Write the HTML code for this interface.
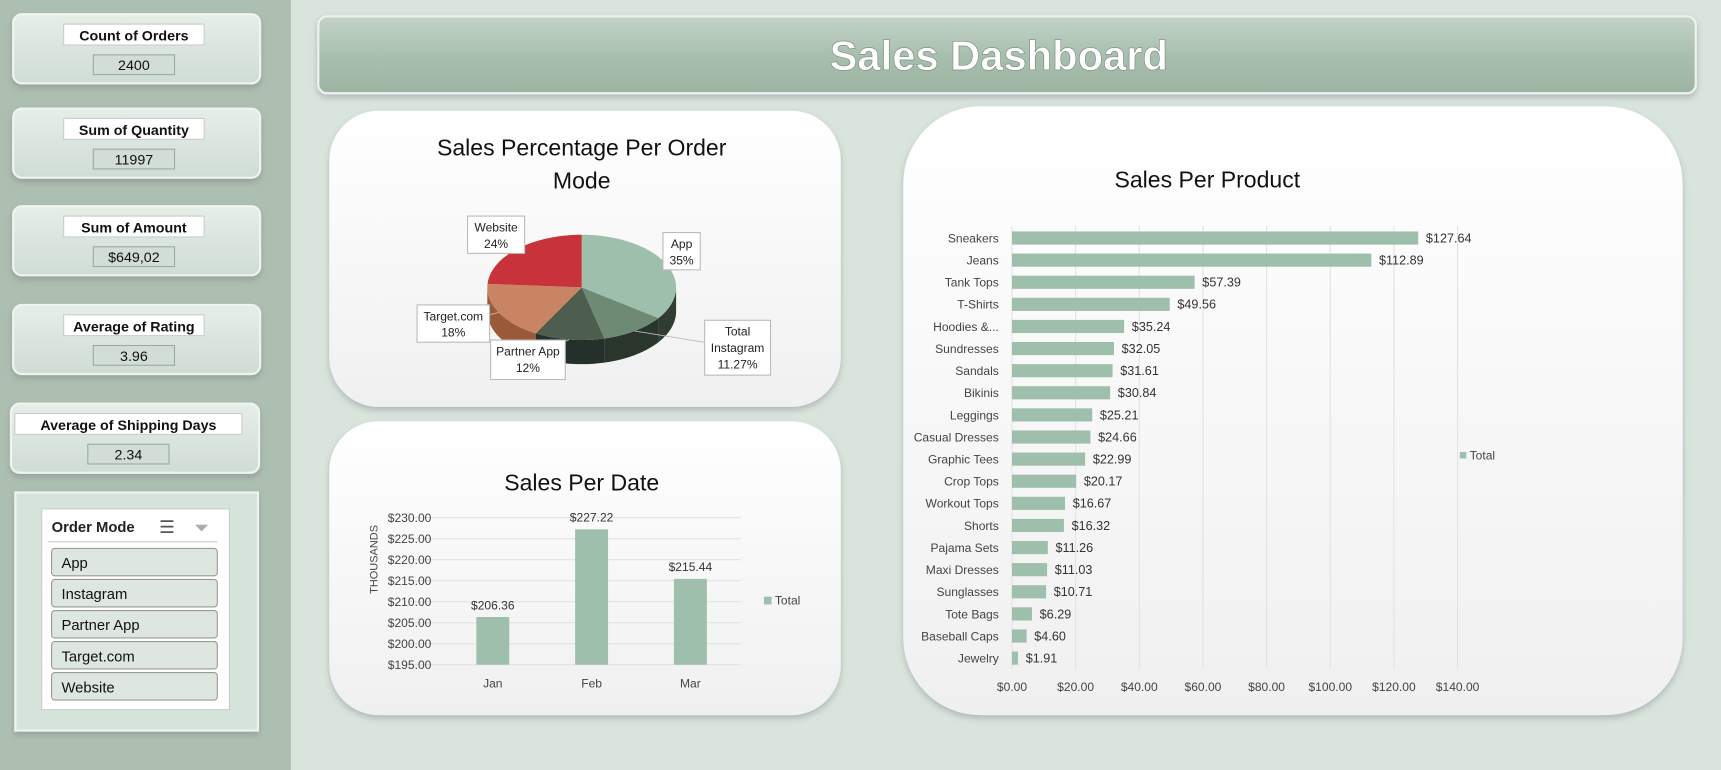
<!DOCTYPE html>
<html><head><meta charset="utf-8"><style>
html,body{margin:0;padding:0;background:#d8e4dc;}
svg{display:block;font-family:"Liberation Sans",sans-serif;}
</style></head><body>
<svg id="s" width="1721" height="770" viewBox="0 0 1568 702" preserveAspectRatio="none" xmlns="http://www.w3.org/2000/svg">
<defs>
<linearGradient id="card" x1="0" y1="0" x2="0" y2="1"><stop offset="0" stop-color="#ffffff"/><stop offset="1" stop-color="#f0f0f0"/></linearGradient>
<linearGradient id="kpi" x1="0" y1="0" x2="0" y2="1"><stop offset="0" stop-color="#e6eee8"/><stop offset="1" stop-color="#cfdcd3"/></linearGradient>
<linearGradient id="title" x1="0" y1="0" x2="0" y2="1"><stop offset="0" stop-color="#c4d4c8"/><stop offset="0.5" stop-color="#a9bfae"/><stop offset="1" stop-color="#9db4a3"/></linearGradient>
<filter id="sh" x="-10%" y="-10%" width="120%" height="130%"><feDropShadow dx="0" dy="3" stdDeviation="3" flood-color="#667" flood-opacity="0.35"/></filter>
</defs>
<rect x="0" y="0" width="1568" height="702" fill="#d8e4dc"/>
<rect x="0" y="0" width="265" height="702" fill="#adbfb0"/>
<g id="kpis"></g>
<!-- slicer -->
<g>
<rect x="14" y="449" width="221" height="217" fill="#d6e3da" stroke="#eef4ef" stroke-width="2" filter="url(#sh)"/>
<rect x="38" y="464" width="171" height="183" fill="#fff" stroke="#c8cfca"/>
<text x="47" y="485" font-size="13.5" font-weight="bold" fill="#222">Order Mode</text>
<text x="145" y="486" font-size="16" fill="#555">☰</text>
<text x="177" y="487" font-size="17" fill="#aaa">⏷</text>
<line x1="44" y1="494" x2="198" y2="494" stroke="#ccc"/>
<g id="slicerItems"></g>
</g>
<!-- title -->
<rect x="290" y="15" width="1255" height="70" rx="8" fill="url(#title)" stroke="#eef2ee" stroke-width="2" filter="url(#sh)"/>
<text x="910" y="64" text-anchor="middle" font-size="38" font-weight="bold" fill="#fff" stroke="#7d8f82" stroke-width="0.6">Sales Dashboard</text>
<!-- cards -->
<rect x="300" y="101" width="466" height="270" rx="45" fill="url(#card)" filter="url(#sh)"/>
<rect x="300" y="384" width="466" height="268" rx="45" fill="url(#card)" filter="url(#sh)"/>
<rect x="823" y="97" width="710" height="555" rx="70" fill="url(#card)" filter="url(#sh)"/>
<text x="530" y="142" text-anchor="middle" font-size="21" fill="#111">Sales Percentage Per Order</text>
<text x="530" y="172" text-anchor="middle" font-size="21" fill="#111">Mode</text>
<g id="pie"></g>
<text x="530" y="447" text-anchor="middle" font-size="21" fill="#111">Sales Per Date</text>
<g id="date"></g>
<text x="1100" y="171" text-anchor="middle" font-size="21" fill="#111">Sales Per Product</text>
<g id="prod"></g>
</svg>
<script>
const NS="http://www.w3.org/2000/svg";
function mk(p,t,a,txt){const e=document.createElementNS(NS,t);for(const k in a)e.setAttribute(k,a[k]);if(txt!==undefined)e.textContent=txt;p.appendChild(e);return e;}
// KPI data
const kpiLabels=["Count of Orders","Sum of Quantity","Sum of Amount","Average of Rating","Average of Shipping Days"];
const kpiValues=["2400","11997","$649,02","3.96","2.34"];
const kpiG=document.getElementById('kpis');
const kpiY=[13,99,188,278,368];
kpiLabels.forEach((l,i)=>{const y=kpiY[i];const w=i==4?207:128;const cx=i==4?117:122;
 const g=mk(kpiG,'g',{});
 
 
 mk(g,'rect',{x:i==4?10:12,y:y,width:i==4?226:225,height:63,rx:8,fill:'url(#kpi)',stroke:'#eef4ef','stroke-width':2,filter:'url(#sh)'});
 mk(g,'rect',{x:cx-w/2,y:y+9,width:w,height:19,fill:'#fff',stroke:'#ccc'});
 mk(g,'text',{x:cx,y:y+24,'text-anchor':'middle','font-size':13,'font-weight':'bold',fill:'#111'},l);
 mk(g,'rect',{x:cx-37,y:y+37,width:74,height:18,fill:'#d2ddd5',stroke:'#9aa'});
 mk(g,'text',{x:cx,y:y+51,'text-anchor':'middle','font-size':13,fill:'#111'},kpiValues[i]);
});
const slicerNames=["App","Instagram","Partner App","Target.com","Website"];
const sg=document.getElementById('slicerItems');
slicerNames.forEach((n,i)=>{const y=500+i*28.3;
 const b=mk(sg,'g',{});
 
 
 mk(b,'rect',{x:47,y:y,width:151,height:25,rx:3,fill:'#dde7e0',stroke:'#999'});
 mk(b,'text',{x:56,y:y+18,'font-size':13.5,fill:'#111'},n);
});
// Pie
const pieLabels=["App","Instagram","Partner App","Target.com","Website"];
const pieValues=[35,11.27,12,18,24];
const pieTop=["#9dbfab","#6e8a74","#4d5e4e","#c98563","#c8323a"];
const pieSide=["#2f3d33","#2a352c","#25302a","#9a5a3a","#8e2328"];
const pg=document.getElementById('pie');
const cx=530,cy=262,rx=86,ry=48,dep=22;
const tot=pieValues.reduce((a,b)=>a+b,0);
let ang=-Math.PI/2;const sl=[];
pieValues.forEach((v,i)=>{const a0=ang,a1=ang+v/tot*2*Math.PI;ang=a1;sl.push([a0,a1]);});
const P=(a,dy)=>[cx+rx*Math.cos(a),cy+ry*Math.sin(a)+(dy||0)];
// sides
sl.forEach(([a0,a1],i)=>{const s0=Math.max(a0,0),s1=Math.min(a1,Math.PI);
 if(s1<=s0)return;let d=`M${P(s0)} `;
 for(let k=0;k<=20;k++){const a=s0+(s1-s0)*k/20;d+=`L${P(a)} `;}
 for(let k=20;k>=0;k--){const a=s0+(s1-s0)*k/20;d+=`L${P(a,dep)} `;}
 const e=mk(pg,'path',{d:d+'Z',fill:pieSide[i]});
 
 });
sl.forEach(([a0,a1],i)=>{let d=`M${cx},${cy} `;
 for(let k=0;k<=30;k++){const a=a0+(a1-a0)*k/30;d+=`L${P(a)} `;}
 const e=mk(pg,'path',{d:d+'Z',fill:pieTop[i]});
 
 });
const lblBox=[[604,212,34,34],[642,292,60,50],[447,310,68,36],[380,278,66,34],[426,197,52,34]];
sl.forEach(([a0,a1],i)=>{const [bx,by,bw,bh]=lblBox[i];const m=(a0+a1)/2;const p=P(m);
 mk(pg,'line',{x1:p[0],y1:p[1],x2:bx+bw/2,y2:by+bh/2,stroke:'#bbb','stroke-width':0.8});
 mk(pg,'rect',{x:bx,y:by,width:bw,height:bh,fill:'#fff',stroke:'#bbb'});
 const lines=i==1?["Total","Instagram",pieValues[i].toFixed(2)+"%"]:[pieLabels[i],Math.round(pieValues[i])+"%"];
 lines.forEach((t,j)=>{const e=mk(pg,'text',{x:bx+bw/2,y:by+14+j*15,'text-anchor':'middle','font-size':11,fill:'#222'},t);
  
  });
});
// Date chart
const months=["Jan","Feb","Mar"];
const monthSales=[206.36,227.22,215.44];
const dateTicks=[195,200,205,210,215,220,225,230];
const dg=document.getElementById('date');
const yD=v=>606-(v-195)*(606-472)/35;
const xD=i=>449+i*90;
dateTicks.forEach(t=>{mk(dg,'line',{x1:372,x2:675,y1:yD(t),y2:yD(t),stroke:'#e2e2e2'});
 mk(dg,'text',{x:393,y:yD(t)+4,'text-anchor':'end','font-size':11,fill:'#444'},'$'+t.toFixed(2));});
mk(dg,'text',{x:344,y:510,'text-anchor':'middle','font-size':10,fill:'#444',transform:'rotate(-90 344 510)'},'THOUSANDS');
months.forEach((m,i)=>{const b=mk(dg,'rect',{x:xD(i)-15,y:yD(monthSales[i]),width:30,height:606-yD(monthSales[i]),fill:'#9dbfab'});
 
 
 mk(dg,'text',{x:xD(i),y:yD(monthSales[i])-7,'text-anchor':'middle','font-size':11,fill:'#333'},'$'+monthSales[i].toFixed(2));
 mk(dg,'text',{x:xD(i),y:627,'text-anchor':'middle','font-size':11,fill:'#444'},m);});
mk(dg,'rect',{x:696,y:544,width:7,height:7,fill:'#9dbfab'});
mk(dg,'text',{x:706,y:551,'font-size':11,fill:'#444'},'Total');
// Product chart
const products=["Sneakers","Jeans","Tank Tops","T-Shirts","Hoodies &...","Sundresses","Sandals","Bikinis","Leggings","Casual Dresses","Graphic Tees","Crop Tops","Workout Tops","Shorts","Pajama Sets","Maxi Dresses","Sunglasses","Tote Bags","Baseball Caps","Jewelry"];
const productSales=[127.64,112.89,57.39,49.56,35.24,32.05,31.61,30.84,25.21,24.66,22.99,20.17,16.67,16.32,11.26,11.03,10.71,6.29,4.60,1.91];
const prodTicks=[0,20,40,60,80,100,120,140];
const qg=document.getElementById('prod');
const xP=v=>922+v*(1328-922)/140;
const yP=i=>217+i*(600-217)/19;
prodTicks.forEach(t=>{mk(qg,'line',{x1:xP(t),x2:xP(t),y1:206,y2:610,stroke:'#e2e2e2'});
 mk(qg,'text',{x:xP(t),y:630,'text-anchor':'middle','font-size':11,fill:'#444'},'$'+t.toFixed(2));});
products.forEach((p,i)=>{const y=yP(i);
 mk(qg,'text',{x:910,y:y+4,'text-anchor':'end','font-size':11,fill:'#444'},p);
 const b=mk(qg,'rect',{x:922,y:y-6,width:xP(productSales[i])-922,height:12,fill:'#9dbfab'});
 
 
 mk(qg,'text',{x:xP(productSales[i])+7,y:y+4,'font-size':11.5,fill:'#333'},'$'+productSales[i].toFixed(2));});
mk(qg,'rect',{x:1330,y:412,width:6,height:6,fill:'#9dbfab'});
mk(qg,'text',{x:1339,y:419,'font-size':11,fill:'#444'},'Total');
</script>
</body></html>
